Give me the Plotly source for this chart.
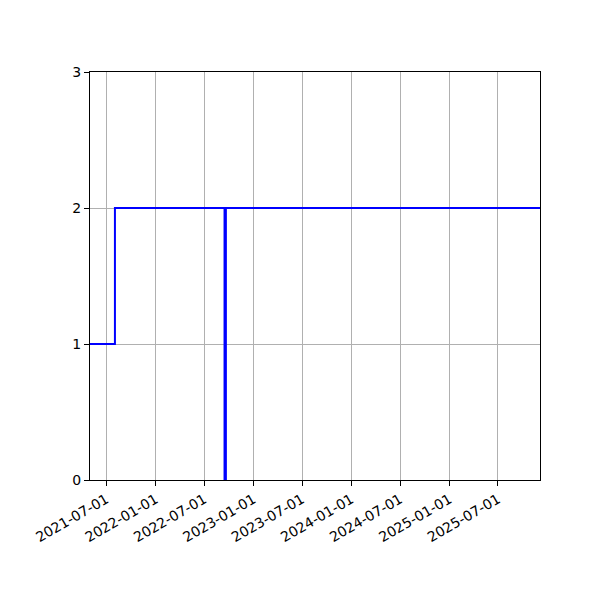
import plotly.graph_objects as go

# step series
dates = ["2021-05-01", "2021-08-02", "2022-09-15", "2022-09-20", "2025-12-05"]
values = [1, 2, 0, 2, 2]

tick_dates = ["2021-07-01", "2022-01-01", "2022-07-01", "2023-01-01", "2023-07-01",
              "2024-01-01", "2024-07-01", "2025-01-01", "2025-07-01"]
y_ticks = [0, 1, 2, 3]

line = go.Scatter(
    x=dates,
    y=values,
    mode="lines",
    line=dict(color="#0000ff", width=2, shape="hv"),
    showlegend=False,
)

axis_style = dict(
    showline=True,
    linecolor="black",
    linewidth=1,
    mirror=True,
    showgrid=True,
    gridcolor="#b0b0b0",
    gridwidth=1,
    ticks="outside",
    ticklen=5,
    tickcolor="black",
    zeroline=False,
)

# page body has an 8px margin, so the margins are shifted to compensate
layout = go.Layout(
    width=600,
    height=600,
    margin=dict(l=82, r=68, t=64, b=128),
    paper_bgcolor="white",
    plot_bgcolor="white",
    font=dict(family="DejaVu Sans", size=14, color="black"),
    xaxis=dict(
        axis_style,
        type="date",
        range=["2021-05-01", "2025-12-05"],
        tickvals=tick_dates,
        ticktext=tick_dates,
        tickangle=-30,
    ),
    yaxis=dict(
        axis_style,
        range=[0, 3],
        tickvals=y_ticks,
    ),
)

fig = go.Figure(data=[line], layout=layout)
fig.write_html("out.html")
